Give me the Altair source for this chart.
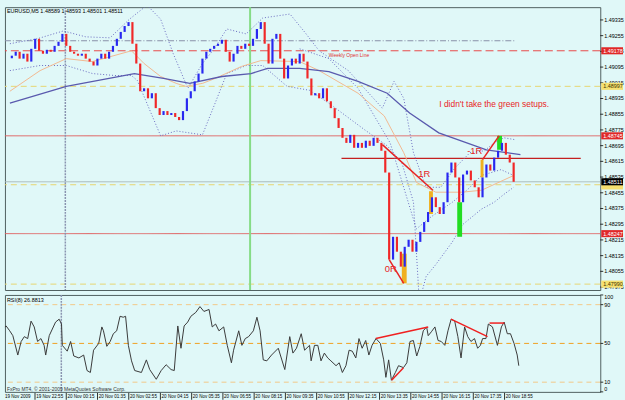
import altair as alt
import pandas as pd

# ---------------- data ----------------
first_open = 1.49140
close = [
    1.49153, 1.49173, 1.49138, 1.49163, 1.49123, 1.49188, 1.49239, 1.49178, 1.49163, 1.49183,
    1.49173, 1.49203, 1.49224, 1.49264, 1.49203, 1.49173, 1.49163, 1.49153, 1.49163, 1.49138,
    1.49123, 1.49103, 1.49138, 1.49163, 1.49138, 1.49173, 1.49203, 1.49239, 1.49274, 1.49304,
    1.49324, 1.49214, 1.49113, 1.48972, 1.48987, 1.48936, 1.48962, 1.48886, 1.48851, 1.48871,
    1.48851, 1.48861, 1.48841, 1.48825, 1.48871, 1.48936, 1.48972, 1.49022, 1.49062, 1.49138,
    1.49173, 1.49188, 1.49203, 1.49214, 1.49234, 1.49173, 1.49123, 1.49163, 1.49203, 1.49188,
    1.49214, 1.49203, 1.49239, 1.49289, 1.49324, 1.49214, 1.49113, 1.49239, 1.49264, 1.49138,
    1.49037, 1.49103, 1.49138, 1.49113, 1.49163, 1.49123, 1.49037, 1.48951, 1.48962, 1.48936,
    1.48987, 1.48921, 1.48886, 1.48835, 1.48785, 1.48735, 1.48709, 1.48750, 1.48684, 1.48709,
    1.48684, 1.48720, 1.48694, 1.48735, 1.48709, 1.48669, 1.48558, 1.48115, 1.48231, 1.48155,
    1.48079, 1.48180, 1.48216, 1.48155, 1.48205, 1.48256, 1.48306, 1.48357, 1.48432, 1.48382,
    1.48347, 1.48407, 1.48558, 1.48609, 1.48533, 1.48407, 1.48548, 1.48568, 1.48518, 1.48483,
    1.48432, 1.48533, 1.48599, 1.48568, 1.48634, 1.48669, 1.48709, 1.48649, 1.48609, 1.48511,
]

slow_bar = [-0.5, 14, 31.5, 39, 45.75, 54, 61.5, 65.75, 74, 81.5, 89, 96.5, 102.25, 109.75, 122, 130.75]
slow_px = [1.48911, 1.48997, 1.49062, 1.49037, 1.49012, 1.49047, 1.49062, 1.49088, 1.49088,
           1.49072, 1.49022, 1.48962, 1.48861, 1.48760, 1.48674, 1.48649]

fast_bar = [-0.5, 7.25, 14, 20.75, 30.75, 34, 38.25, 42.25, 44.75, 49, 52.25, 59, 64, 74, 79,
            89, 95.75, 100.75, 104, 109, 115.75, 120.75, 129]
fast_px = [1.48972, 1.49077, 1.49138, 1.49123, 1.49178, 1.49113, 1.49047, 1.49012, 1.48997,
           1.49012, 1.49037, 1.49098, 1.49128, 1.49123, 1.49077, 1.48962, 1.48846, 1.48659,
           1.48508, 1.48458, 1.48458, 1.48468, 1.48543]

upper_bar = [-0.5, 6.5, 13.25, 19, 25.25, 30.25, 34.75, 38.25, 41.5, 45.25, 49, 52, 55.25, 60.25,
             64.5, 71.5, 75.25, 79, 86.5, 95.25, 98.25, 100.75, 103.25, 106.5, 110.25, 114,
             117.75, 121.5, 124, 126.5, 129.5]
upper_px = [1.49214, 1.49239, 1.49279, 1.49249, 1.49244, 1.49339, 1.49410, 1.49339, 1.49163,
            1.48987, 1.49113, 1.49188, 1.49289, 1.49264, 1.49345, 1.49365, 1.49274, 1.49178,
            1.49077, 1.48886, 1.49022, 1.48936, 1.48659, 1.48483, 1.48483, 1.48583, 1.48659,
            1.48669, 1.48709, 1.48735, 1.48725]

lower_bar = [-0.5, 7.25, 14, 20.75, 26.5, 30.75, 32.25, 38.25, 42.25, 49, 52.25, 55.25, 60.25,
             64.5, 70.75, 76.5, 81.5, 90.75, 96.5, 100.25, 103.25, 104.75, 106.5, 109, 113.25,
             115.75, 120.75, 124, 126.5, 129]
lower_px = [1.49077, 1.49103, 1.49103, 1.49062, 1.49052, 1.49052, 1.49027, 1.48745, 1.48770,
            1.48750, 1.48911, 1.49062, 1.49103, 1.49103, 1.48997, 1.48977, 1.48911, 1.48775,
            1.48694, 1.48609, 1.48407, 1.47900, 1.48029, 1.48090, 1.48205, 1.48291, 1.48372,
            1.48407, 1.48447, 1.48483]

mid_bar = [74, 81.5, 89, 97.25, 104, 107.75, 113.25, 117.25, 120.75, 125.75, 129]
mid_px = [1.49188, 1.49138, 1.48987, 1.48709, 1.48271, 1.48332, 1.48407, 1.48473, 1.48543,
          1.48573, 1.48543]

rsi_bar = [-0.5, -0.2, 0.7, 1.5, 2.75, 3.6, 4.4, 5.25, 6.1, 6.9,
           7.75, 8.6, 9.4, 9.8, 10.7, 12.3, 13.2, 13.8, 14.0, 15.25,
           16.1, 16.9, 18.2, 19.4, 20.25, 21.1, 21.9, 23.2, 24.0, 24.4,
           25.25, 26.1, 26.9, 27.75, 28.6, 29.4, 30.0, 30.7, 31.5, 32.3,
           34.0, 35.25, 36.1, 37.75, 39.0, 40.25, 41.5, 42.3, 43.2, 44.0,
           44.8, 45.7, 46.5, 47.75, 48.8, 49.8, 51.1, 51.9, 52.75, 53.6,
           54.8, 55.7, 56.75, 57.3, 58.6, 59.4, 60.25, 61.1, 62.3, 63.2,
           64.0, 64.8, 65.7, 66.9, 68.6, 70.25, 71.5, 72.3, 73.2, 74.4,
           75.25, 76.5, 76.9, 77.75, 78.6, 79.4, 80.25, 81.1, 81.9, 83.2,
           84.0, 84.8, 85.7, 86.5, 87.3, 88.2, 89.0, 89.8, 90.7, 91.5,
           92.3, 93.3, 94.4, 95.25, 95.8, 96.5, 97.2, 98.2, 99.0, 100.25,
           101.1, 101.9, 102.75, 103.6, 104.4, 105.25, 106.1, 106.5, 107.3, 108.2,
           109.0, 109.8, 110.7, 111.5, 112.3, 113.2, 114.0, 114.8, 115.7, 116.5,
           117.3, 118.2, 119.0, 119.7, 120.25, 121.1, 121.7, 122.75, 124.0, 125.0,
           125.7, 126.5, 127.3, 128.2, 129.0, 129.4]
rsi_val = [67, 68, 63, 58, 38, 52, 57, 55, 73, 67,
           52, 55, 48, 38, 58, 72, 75, 70, 48, 42,
           52, 37, 35, 38, 22, 20, 43, 50, 67, 63,
           47, 52, 60, 63, 78, 77, 78, 48, 32, 22,
           20, 33, 23, 13, 22, 28, 23, 22, 68, 45,
           68, 72, 78, 82, 88, 83, 85, 67, 70, 63,
           67, 48, 30, 43, 63, 48, 55, 57, 63, 77,
           63, 33, 32, 38, 45, 23, 57, 40, 45, 60,
           43, 48, 32, 48, 48, 32, 40, 35, 32, 27,
           30, 20, 27, 43, 42, 35, 55, 45, 53, 38,
           48, 55, 50, 33, 15, 33, 12, 20, 27, 25,
           30, 52, 53, 37, 47, 63, 67, 58, 62, 67,
           53, 52, 48, 63, 75, 73, 57, 35, 67, 57,
           52, 55, 45, 48, 55, 55, 70, 67, 48, 67,
           72, 60, 60, 50, 38, 27]

price_ticks = [1.47975, 1.48055, 1.48135, 1.48215, 1.48295, 1.48375, 1.48455, 1.48535, 1.48615,
               1.48695, 1.48775, 1.48855, 1.48935, 1.49015, 1.49095, 1.49175, 1.49255, 1.49335]
rsi_ticks_mid = [10, 50, 90]
rsi_tick_top = [100]
rsi_tick_bottom = [0]

time_bar = [7.1, 15.0, 22.9, 30.8, 38.8, 46.7, 54.6, 62.5, 70.4, 78.3, 86.3, 94.2, 102.1,
            110.0, 117.9, 125.8]
time_lab = ["19 Nov 22:55", "20 Nov 00:15", "20 Nov 01:35", "20 Nov 02:55", "20 Nov 04:15",
            "20 Nov 05:35", "20 Nov 06:55", "20 Nov 08:15", "20 Nov 09:35", "20 Nov 10:55",
            "20 Nov 12:15", "20 Nov 13:35", "20 Nov 14:55", "20 Nov 16:15", "20 Nov 17:35",
            "20 Nov 18:55"]

weekly_open = 1.49178
yellow_levels = [1.48997, 1.48496, 1.47990]
red_levels = [1.48745, 1.48247]
last_price = 1.48511
dashdot_level = 1.49229
resist_level = 1.48630

box_price = [1.49178, 1.48997, 1.48745, 1.48490, 1.48511, 1.48247, 1.47990]
box_label = ["1.49178", "1.48997", "1.48745", "", "1.48511", "1.48247", "1.47990"]
box_fill = ["#E02828", "#F6E070", "#E02828", "#F6E070", "#000000", "#E02828", "#F6E070"]
box_ink = ["#FFFFFF", "#403000", "#FFFFFF", "#403000", "#FFFFFF", "#FFFFFF", "#403000"]

trend_seg = ["a", "a", "b", "b", "c", "c"]
trend_bar = [95.25, 108.25, 97, 100.75, 121, 125.25]
trend_px = [1.48700, 1.48468, 1.48115, 1.47994, 1.48624, 1.48745]

r_text = ["1R", "0R", "-1R"]
r_bar = [106, 97.4, 119]
r_px = [1.48548, 1.48069, 1.48667]

rect_b0 = [100.25, 107.25, 114.5, 120.5, 124.75]
rect_b1 = [101.5, 108.25, 115.75, 121.25, 126.0]
rect_p0 = [1.48145, 1.48463, 1.48407, 1.48624, 1.48745]
rect_p1 = [1.47994, 1.48347, 1.48231, 1.48533, 1.48674]
rect_col = ["#F0B020", "#F0B020", "#22DD22", "#F0B020", "#22DD22"]

rsi_seg = ["a", "a", "b", "b", "c", "c", "d", "d"]
rsi_seg_bar = [93.25, 106.5, 97.25, 100.25, 112.25, 121.5, 122, 125.75]
rsi_seg_val = [55, 67, 12, 25, 75, 57, 71, 71]

# ---------------- build ----------------
W, H, HR = 602, 286, 98
FONT = "Liberation Sans"
X = alt.Scale(domain=[-0.5, 150], nice=False, zero=False)
YP = alt.Scale(domain=[1.4796, 1.4940], nice=False, zero=False)
YR = alt.Scale(domain=[0, 100], nice=False, zero=False)

one = pd.DataFrame({"k": [0]})


def xq(f):
    return alt.X(f"{f}:Q", scale=X, axis=None)


def yq(f):
    return alt.Y(f"{f}:Q", scale=YP, axis=None)


def yr(f):
    return alt.Y(f"{f}:Q", scale=YR, axis=None)


opens = [first_open] + close[:-1]
candles = pd.DataFrame({
    "bar": list(range(len(close))),
    "open": opens,
    "close": close,
    "dir": ["up" if c >= o else "down" for o, c in zip(opens, close)],
})


def hrule(vals, color, dash, w=1):
    return alt.Chart(pd.DataFrame({"p": vals})).mark_rule(
        color=color, strokeDash=dash, strokeWidth=w).encode(y=yq("p"))


layers = []
# price scale: tick marks and labels drawn through the y scale
ptk = pd.DataFrame({"p": price_ticks})
layers.append(alt.Chart(ptk).mark_rule(color="#000", strokeWidth=0.8).encode(
    y=yq("p"), x=alt.value(W), x2=alt.value(W + 3)))
layers.append(alt.Chart(ptk).mark_text(align="left", baseline="middle", fontSize=5.5,
                                       font=FONT, color="#000")
              .encode(y=yq("p"), x=alt.value(W + 4), text=alt.Text("p:Q", format=".5f")))

layers.append(hrule([dashdot_level], "#8890A8", [6, 2, 1, 2]).encode(
    x=alt.value(0), x2=alt.value((128.5 + 0.5) * W / 150.5)))
layers.append(hrule([weekly_open], "#E84848", [8, 4]))
layers.append(hrule(yellow_levels, "#E6D670", [6, 4]))
layers.append(hrule(red_levels, "#E06060", [1, 0]))
layers.append(hrule([last_price], "#A8B8B8", [1, 0]))
layers.append(alt.Chart(pd.DataFrame({"p": [resist_level], "b0": [84.75], "b1": [146.25]}))
              .mark_rule(color="#C42020", strokeWidth=1.2)
              .encode(y=yq("p"), x=xq("b0"), x2="b1:Q"))
layers.append(alt.Chart(pd.DataFrame({"b": [13.75]})).mark_rule(
    color="#8A94B0", strokeDash=[2, 1], strokeWidth=1.5).encode(x=xq("b")))
layers.append(alt.Chart(pd.DataFrame({"b": [61.25]})).mark_rule(
    color="#86DC86", strokeWidth=2).encode(x=xq("b")))

dot = dict(strokeDash=[1, 2], strokeWidth=1, color="#6A6AC0", clip=True)
for bars, pxs in [(upper_bar, upper_px), (lower_bar, lower_px), (mid_bar, mid_px)]:
    layers.append(alt.Chart(pd.DataFrame({"b": bars, "p": pxs})).mark_line(**dot).encode(
        x=xq("b"), y=yq("p")))
layers.append(alt.Chart(pd.DataFrame({"b": fast_bar, "p": fast_px})).mark_line(
    color="#F2B890", strokeWidth=1, clip=True).encode(x=xq("b"), y=yq("p")))
layers.append(alt.Chart(pd.DataFrame({"b": slow_bar, "p": slow_px})).mark_line(
    color="#5A5AAE", strokeWidth=1.3, clip=True).encode(x=xq("b"), y=yq("p")))

layers.append(alt.Chart(pd.DataFrame({"b0": rect_b0, "b1": rect_b1, "p0": rect_p0,
                                      "p1": rect_p1, "c": rect_col}))
              .mark_rect().encode(x=xq("b0"), x2="b1:Q", y=yq("p0"), y2="p1:Q",
                                  color=alt.Color("c:N", scale=None)))

layers.append(alt.Chart(candles).mark_bar(size=2.2).encode(
    x=xq("bar"),
    y=yq("open"),
    y2="close:Q",
    color=alt.Color("dir:N", scale=alt.Scale(domain=["up", "down"],
                                             range=["#2828F0", "#F02828"]), legend=None),
))

layers.append(alt.Chart(pd.DataFrame({"s": trend_seg, "b": trend_bar, "p": trend_px}))
              .mark_line(color="#E82424", strokeWidth=1.5)
              .encode(x=xq("b"), y=yq("p"), detail="s:N"))
layers.append(alt.Chart(pd.DataFrame({"t": r_text, "b": r_bar, "p": r_px}))
              .mark_text(color="#E82424", fontSize=9.5, font=FONT)
              .encode(x=xq("b"), y=yq("p"), text="t:N"))
layers.append(alt.Chart(pd.DataFrame({"t": ["I didn't take the green setups."], "b": [124],
                                      "p": [1.48906]}))
              .mark_text(color="#E82424", fontSize=8.5, font=FONT)
              .encode(x=xq("b"), y=yq("p"), text="t:N"))
layers.append(alt.Chart(pd.DataFrame({"t": ["Weekly Open Line"], "b": [81.5], "p": [1.49158]}))
              .mark_text(color="#E03030", fontSize=5, font=FONT, align="left")
              .encode(x=xq("b"), y=yq("p"), text="t:N"))
layers.append(alt.Chart(one).mark_text(align="left", fontSize=5.5, font=FONT, color="#000")
              .encode(x=alt.value(2), y=alt.value(4),
                      text=alt.value("EURUSD,M5  1.48589 1.48593 1.48501 1.48511")))

boxes = pd.DataFrame({"p": box_price, "t": box_label, "f": box_fill, "i": box_ink})
layers.append(alt.Chart(boxes).transform_calculate(lo="datum.p - 0.00018", hi="datum.p + 0.00018")
              .mark_rect().encode(x=alt.value(W + 1), x2=alt.value(W + 23), y=yq("lo"),
                                  y2="hi:Q", color=alt.Color("f:N", scale=None)))
layers.append(alt.Chart(boxes).mark_text(align="left", fontSize=5.5, font=FONT)
              .encode(x=alt.value(W + 3), y=yq("p"), text="t:N",
                      color=alt.Color("i:N", scale=None)))

main = alt.layer(*layers).properties(width=W, height=H)

# ---------------- RSI panel ----------------
rl = []
rtk = pd.DataFrame({"v": rsi_ticks_mid + rsi_tick_top + rsi_tick_bottom})
rl.append(alt.Chart(rtk).mark_rule(color="#000", strokeWidth=0.8).encode(
    y=yr("v"), x=alt.value(W), x2=alt.value(W + 3)))
for vals, base in [(rsi_ticks_mid, "middle"), (rsi_tick_top, "top"), (rsi_tick_bottom, "bottom")]:
    rl.append(alt.Chart(pd.DataFrame({"v": vals})).mark_text(
        align="left", baseline=base, fontSize=5.5, font=FONT, color="#000")
        .encode(y=yr("v"), x=alt.value(W + 4), text="v:Q"))


def lv(v, col):
    return alt.Chart(pd.DataFrame({"v": [v]})).mark_rule(
        color=col, strokeDash=[5, 4], strokeWidth=1).encode(y=yr("v"))


rl.append(lv(90, "#F2C888"))
rl.append(lv(10, "#F2C888"))
rl.append(lv(50, "#F0A020"))
rl.append(alt.Chart(pd.DataFrame({"b": [13.75]})).mark_rule(
    color="#8A94B0", strokeDash=[2, 1], strokeWidth=1.5).encode(x=xq("b")))
rl.append(alt.Chart(pd.DataFrame({"b": rsi_bar, "v": rsi_val})).mark_line(
    color="#3A3A3A", strokeWidth=1).encode(x=xq("b"), y=yr("v")))
rl.append(alt.Chart(pd.DataFrame({"s": rsi_seg, "b": rsi_seg_bar, "v": rsi_seg_val}))
          .mark_line(color="#F02020", strokeWidth=1.5)
          .encode(x=xq("b"), y=yr("v"), detail="s:N"))
rl.append(alt.Chart(one).mark_text(align="left", fontSize=5.5, font=FONT, color="#000")
          .encode(x=alt.value(2), y=alt.value(5), text=alt.value("RSI(8) 26.8813")))
rl.append(alt.Chart(one).mark_text(align="left", fontSize=5, font=FONT, color="#333")
          .encode(x=alt.value(2), y=alt.value(95),
                  text=alt.value("FxPro MT4, \u00a9 2001-2009 MetaQuotes Software Corp.")))
tdf = pd.DataFrame({"b": time_bar, "t": time_lab})
rl.append(alt.Chart(tdf).mark_rule(color="#000", strokeWidth=0.8).encode(
    x=xq("b"), y=alt.value(HR + 1), y2=alt.value(HR + 8)))
rl.append(alt.Chart(tdf).mark_text(align="left", fontSize=4.6, font=FONT, color="#000", dx=1.2)
          .encode(x=xq("b"), y=alt.value(HR + 5), text="t:N"))
rl.append(alt.Chart(pd.DataFrame({"b": [-0.5], "t": ["19 Nov 2009"]}))
          .mark_text(align="left", fontSize=4.6, font=FONT, color="#000")
          .encode(x=xq("b"), y=alt.value(HR + 5), text="t:N"))

rsi = alt.layer(*rl).properties(width=W, height=HR)

chart = (alt.vconcat(main, rsi, spacing=1)
         .configure(background="#E0F8F8", padding={"left": 2, "top": 3, "right": 0, "bottom": 0})
         .configure_view(stroke="#4F5F5F", strokeWidth=1))

chart.save("out.html", embed_options={"renderer": "svg", "actions": False})
